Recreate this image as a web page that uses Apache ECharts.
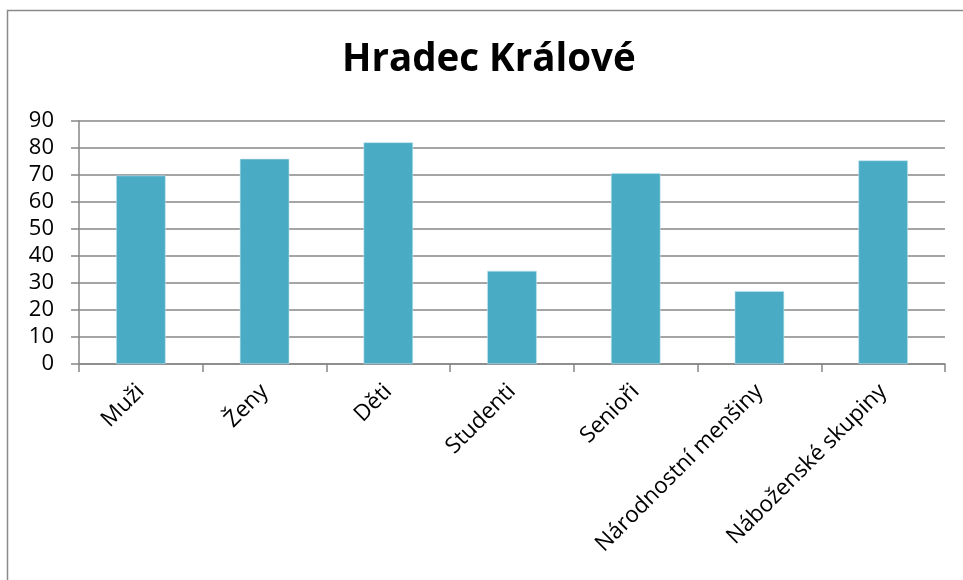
<!DOCTYPE html>
<html>
<head>
<meta charset="utf-8">
<script src="https://cdn.jsdelivr.net/npm/echarts@6/dist/echarts.min.js"></script>
<style>html,body{margin:0;padding:0;background:#fff;}#c{width:963px;height:580px;}</style>
</head>
<body>
<div id="c"></div>
<script>
const titleText = 'Hradec Králové';
const categories = ['Muži', 'Ženy', 'Děti', 'Studenti', 'Senioři', 'Národnostní menšiny', 'Náboženské skupiny'];
const values = [69.8, 76, 82.1, 34.5, 70.7, 27, 75.4];
const yMin = 0, yMax = 90, yStep = 10;

const chart = echarts.init(document.getElementById('c'), null, {renderer: 'canvas'});
const font = '"Open Sans", sans-serif';
chart.setOption({
  animation: false,
  backgroundColor: '#fff',
  graphic: [{
    type: 'rect', left: 5, top: 8, z: -1,
    shape: {x: 0, y: 0, width: 1100, height: 1000},
    style: {fill: 'none', stroke: '#8a8a8a', lineWidth: 1.5}
  }],
  title: {
    text: titleText, left: 337, top: 36,
    textStyle: {fontFamily: font, fontWeight: 'bold', fontSize: 38.5, color: '#000'}
  },
  grid: {left: 79, right: 18, top: 121, bottom: 216, containLabel: false},
  xAxis: {
    type: 'category', data: categories,
    axisLine: {lineStyle: {color: '#878787', width: 1.5}},
    axisTick: {show: true, length: 8, lineStyle: {color: '#878787', width: 1.5}},
    axisLabel: {rotate: 45, interval: 0, margin: 24, fontFamily: font, fontSize: 22.5, color: '#000'}
  },
  yAxis: {
    type: 'value', min: yMin, max: yMax, interval: yStep,
    axisLine: {show: true, lineStyle: {color: '#878787', width: 1.5}},
    axisTick: {show: true, length: 8, lineStyle: {color: '#878787', width: 1.5}},
    splitLine: {lineStyle: {color: '#878787', width: 1.5}},
    axisLabel: {margin: 25, fontFamily: font, fontSize: 22, color: '#000'}
  },
  series: [{
    type: 'bar', data: values, barWidth: '40%',
    itemStyle: {color: '#4aabc5', borderColor: '#bfe3ee', borderWidth: 0.6}
  }]
});
</script>
</body>
</html>
